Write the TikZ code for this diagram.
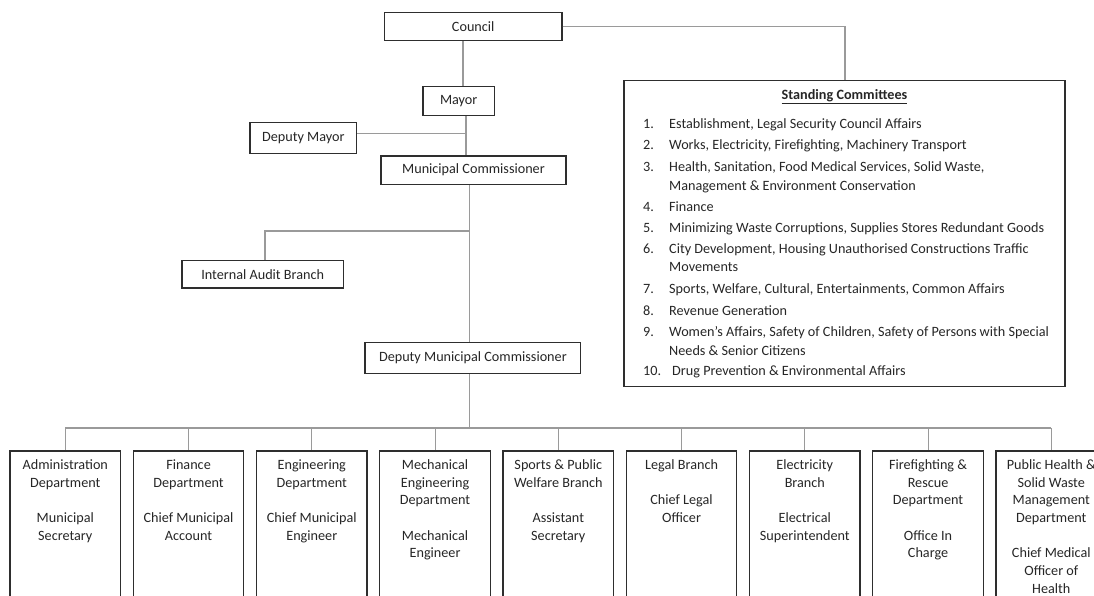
\documentclass[tikz,border=0pt]{standalone}
\usepackage{fontspec}
\setmainfont{Carlito}
\definecolor{ink}{HTML}{262626}
\definecolor{boxline}{HTML}{2E2E2E}
\definecolor{wire}{HTML}{9A9A9A}
\begin{document}
\begin{tikzpicture}[x=1pt,y=-1pt,
  txt/.style={font=\fontsize{14.2pt}{17.7pt}\selectfont, text=ink},
  box/.style={txt, draw=boxline, line width=1.3pt, inner sep=0pt, fill=white},
  depbox/.style={draw=boxline, line width=1.3pt, inner sep=0pt, minimum width=110.5pt, minimum height=170pt},
  deptext/.style={txt, align=center, anchor=north, inner sep=0pt},
  num/.style={txt, anchor=mid west, inner sep=0pt},
  item/.style={txt, anchor=mid west, inner sep=0pt},
  conn/.style={draw=wire, line width=1.1pt}]
\useasboundingbox (0,0) rectangle (1094,595);
\clip (0,0) rectangle (1094,595);

% upper chain of offices
\node[box, minimum width=177.7pt, minimum height=28pt] (council) at (473.2,26.7) {Council};
\node[box, minimum width=71.3pt, minimum height=29.4pt] (mayor) at (458.7,101) {Mayor};
\node[box, minimum width=106.7pt, minimum height=30.6pt] (dmayor) at (303.3,138) {Deputy Mayor};
\node[box, minimum width=185pt, minimum height=28.3pt] (mc) at (473.5,170.2) {Municipal Commissioner};
\node[box, minimum width=161.3pt, minimum height=27.3pt] (audit) at (262.7,274.4) {Internal Audit Branch};
\node[box, minimum width=215.7pt, minimum height=31pt] (dmc) at (472.9,358.2) {Deputy Municipal Commissioner};

% standing committees panel
\node[draw=boxline, line width=1.3pt, minimum width=441pt, minimum height=306pt, inner sep=0pt] (sc) at (844.5,233.7) {};
\node[txt, inner sep=0pt, anchor=mid] (sctitle) at (844.5,97) {\textbf{\underline{Standing Committees}}};
\foreach \n/\y/\t in {
  1./126.5/{Establishment, Legal Security Council Affairs},
  2./147.5/{Works, Electricity, Firefighting, Machinery Transport},
  3./169.5/{Health, Sanitation, Food Medical Services, Solid Waste,},
  4./209.2/{Finance},
  5./230.5/{Minimizing Waste Corruptions, Supplies Stores Redundant Goods},
  6./251.5/{City Development, Housing Unauthorised Constructions Traffic},
  7./291.5/{Sports, Welfare, Cultural, Entertainments, Common Affairs},
  8./313.2/{Revenue Generation},
  9./334.5/{Women’s Affairs, Safety of Children, Safety of Persons with Special}}{
  \node[num] (scn\n) at (643,\y) {\n};
  \node[item] (sci\n) at (669,\y) {\t};
}
\node[item] (sci3b) at (669,188.2) {Management \& Environment Conservation};
\node[item] (sci6b) at (669,269.5) {Movements};
\node[item] (sci9b) at (669,353.2) {Needs \& Senior Citizens};
\node[num] (scn10) at (643,373.5) {10.};
\node[item] (sci10) at (672,373.5) {Drug Prevention \& Environmental Affairs};

% departments
\foreach \i/\cx/\t in {
  1/65.3/{Administration\\Department\\[17.7pt]Municipal\\Secretary},
  2/188.55/{Finance\\Department\\[17.7pt]Chief Municipal\\Account},
  3/311.8/{Engineering\\Department\\[17.7pt]Chief Municipal\\Engineer},
  4/435.05/{Mechanical\\Engineering\\Department\\[17.7pt]Mechanical\\Engineer},
  5/558.3/{Sports \& Public\\Welfare Branch\\[17.7pt]Assistant\\Secretary},
  6/681.55/{Legal Branch\\[17.7pt]Chief Legal\\Officer},
  7/804.8/{Electricity\\Branch\\[17.7pt]Electrical\\Superintendent},
  8/928.05/{Firefighting \&\\Rescue\\Department\\[17.7pt]Office In\\Charge},
  9/1051.3/{Public Health \&\\Solid Waste\\Management\\Department\\[17.7pt]Chief Medical\\Officer of\\Health}}{
  \node[depbox] (d\i) at (\cx,536) {};
  \node[deptext] (d\i t) at ([yshift=-9pt]d\i.north) {\t};
}

% junction positions of the wiring
\coordinate (cmx) at (463,0);
\coordinate (mmx) at (466,0);
\coordinate (dmy) at (0,133.7);
\coordinate (trunk) at (469.5,0);
\coordinate (auy) at (0,231);
\coordinate (aux) at (265,0);
\coordinate (busy) at (0,428);
\coordinate (scx) at (845,0);

% connectors
\draw[conn] (council.south -| cmx) -- (mayor.north -| cmx);
\draw[conn] (mayor.south -| mmx) -- (mc.north -| mmx);
\draw[conn] (dmayor.east |- dmy) -- (dmy -| mmx);
\draw[conn] (mc.south -| trunk) -- (dmc.north -| trunk);
\draw[conn] (auy -| trunk) -- (auy -| aux) -- (audit.north -| aux);
\draw[conn] (dmc.south -| trunk) -- (busy -| trunk);
\draw[conn] (busy -| d1.north) -- (busy -| d9.north);
\foreach \i in {1,...,9}{
  \draw[conn] (busy -| d\i.north) -- (d\i.north);
}
\draw[conn] (council.east) -- (council.east -| scx) -- (sc.north -| scx);
\end{tikzpicture}
\end{document}
